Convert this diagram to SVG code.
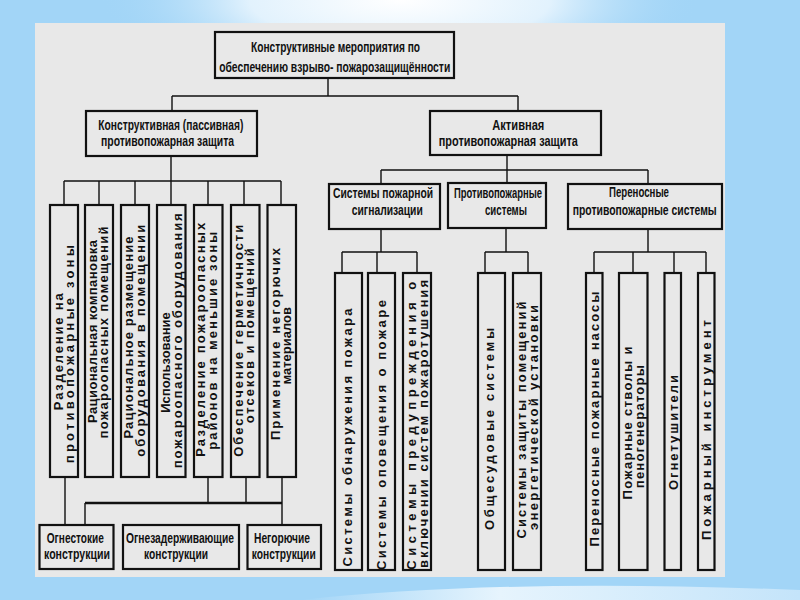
<svg xmlns="http://www.w3.org/2000/svg" width="800" height="600" viewBox="0 0 800 600">
<defs>
<radialGradient id="glow" cx="400" cy="0" r="300" gradientUnits="userSpaceOnUse" gradientTransform="translate(400 0) scale(1 0.3) translate(-400 0)">
<stop offset="0" stop-color="#ffffff"/>
<stop offset="0.5" stop-color="#e2f2fd"/>
<stop offset="1" stop-color="#a2d5f7" stop-opacity="0"/>
</radialGradient>
<linearGradient id="swoosh" x1="0" y1="0" x2="1" y2="0">
<stop offset="0" stop-color="#a2d5f7"/>
<stop offset="0.4" stop-color="#e6f4fd"/>
<stop offset="1" stop-color="#c4e4fa"/>
</linearGradient>
<style>
.box{fill:#e8e8e8;stroke:#111;stroke-width:2.2}
.ln{fill:none;stroke:#111;stroke-width:1.4}
.thk{fill:none;stroke:#111;stroke-width:2.6}
.h{font-family:"Liberation Sans",Arial,sans-serif;font-weight:bold;font-size:14px;fill:#111;text-anchor:middle}
.v{font-family:"Liberation Sans",Arial,sans-serif;font-weight:bold;font-size:13px;fill:#111;text-anchor:middle}
</style>
</defs>
<rect x="0" y="0" width="800" height="600" fill="#a2d5f7"/>
<rect x="0" y="0" width="800" height="120" fill="url(#glow)"/>
<path d="M300 600 Q 500 578 800 590 L800 600 Z" fill="url(#swoosh)"/>
<rect x="35" y="23" width="690" height="554" fill="#e8e8e8"/>

<g id="connectors">
<path class="ln" d="M328 78V96M172 96H518M172 96V111M518 96V111"/>
<path class="ln" d="M171 156V181M64 181H281M64 181V205M99 181V205M135 181V205M171 181V205M208 181V205M244 181V205M281 181V205"/>
<path class="ln" d="M507 155V183M381 170H648M381 170V184M648 170V184"/>
<path class="ln" d="M381 229V252M342 252H417M342 252V273M377 252V273M417 252V273"/>
<path class="ln" d="M506 228V252M485 252H528M485 252V273M528 252V273"/>
<path class="ln" d="M648 229V252M594 252H706M594 252V273M633 252V273M674 252V273M706 252V273"/>
<path class="ln" d="M65 477V525M208 477V503M246 477V503M282 477V525M85 503V525"/>
<path class="thk" d="M85 503H282"/>
</g>

<g id="root"><rect class="box" x="215" y="32" width="239" height="46"/>
<text class="h" transform="translate(335.5 51.5) scale(0.8 1)" textLength="211.3" lengthAdjust="spacingAndGlyphs">Конструктивные мероприятия по</text>
<text class="h" transform="translate(334.7 71.5) scale(0.8 1)" textLength="288.8" lengthAdjust="spacingAndGlyphs">обеспечению взрыво- пожарозащищённости</text></g>

<g id="passive"><rect class="box" x="86" y="111" width="171" height="45"/>
<text class="h" transform="translate(170.8 130) scale(0.8 1)" textLength="181.3" lengthAdjust="spacingAndGlyphs">Конструктивная (пассивная)</text>
<text class="h" transform="translate(167.5 146) scale(0.8 1)" textLength="166.3" lengthAdjust="spacingAndGlyphs">противопожарная защита</text></g>

<g id="active"><rect class="box" x="430" y="111" width="171" height="44"/>
<text class="h" transform="translate(518.3 130) scale(0.8 1)" textLength="65" lengthAdjust="spacingAndGlyphs">Активная</text>
<text class="h" transform="translate(508.3 146) scale(0.8 1)" textLength="173.8" lengthAdjust="spacingAndGlyphs">противопожарная защита</text></g>

<g id="alarm"><rect class="box" x="329" y="184" width="111" height="45"/>
<text class="h" transform="translate(383 198) scale(0.8 1)" textLength="125" lengthAdjust="spacingAndGlyphs">Системы пожарной</text>
<text class="h" transform="translate(387.3 215) scale(0.8 1)" textLength="88.8" lengthAdjust="spacingAndGlyphs">сигнализации</text></g>

<g id="firesys"><rect class="box" x="448" y="183" width="98" height="45"/>
<text class="h" transform="translate(498 198) scale(0.8 1)" textLength="110" lengthAdjust="spacingAndGlyphs">Противопожарные</text>
<text class="h" transform="translate(506 215) scale(0.8 1)" textLength="52.5" lengthAdjust="spacingAndGlyphs">системы</text></g>

<g id="portable"><rect class="box" x="568" y="184" width="154" height="45"/>
<text class="h" transform="translate(639 197) scale(0.8 1)" textLength="75" lengthAdjust="spacingAndGlyphs">Переносные</text>
<text class="h" transform="translate(644.7 215) scale(0.8 1)" textLength="180" lengthAdjust="spacingAndGlyphs">противопожарные системы</text></g>

<g id="p1"><rect class="box" x="50" y="205" width="28" height="272"/>
<text class="v" transform="translate(63.3 351.7) rotate(-90)" textLength="117" lengthAdjust="spacing">Разделение на</text>
<text class="v" transform="translate(74 354.2) rotate(-90)" textLength="218" lengthAdjust="spacing">противопожарные зоны</text></g>
<g id="p2"><rect class="box" x="85" y="205" width="28" height="272"/>
<text class="v" transform="translate(96.5 331.5) rotate(-90)" textLength="183" lengthAdjust="spacing">Рациональная компановка</text>
<text class="v" transform="translate(108 332.5) rotate(-90)" textLength="212" lengthAdjust="spacing">пожароопасных помещений</text></g>
<g id="p3"><rect class="box" x="121" y="205" width="28" height="272"/>
<text class="v" transform="translate(133 337.5) rotate(-90)" textLength="202" lengthAdjust="spacing">Рациональное размещение</text>
<text class="v" transform="translate(144.5 340.8) rotate(-90)" textLength="232" lengthAdjust="spacing">оборудования в помещении</text></g>
<g id="p4"><rect class="box" x="157" y="205" width="28.5" height="272"/>
<text class="v" transform="translate(170 362.5) rotate(-90)">Использование</text>
<text class="v" transform="translate(181.5 340.8) rotate(-90)" textLength="255" lengthAdjust="spacing">пожароопасного оборудования</text></g>
<g id="p5"><rect class="box" x="194" y="205" width="28.5" height="272"/>
<text class="v" transform="translate(205 339.8) rotate(-90)" textLength="234" lengthAdjust="spacing">Разделение пожароопасных</text>
<text class="v" transform="translate(216.5 340.8) rotate(-90)" textLength="218" lengthAdjust="spacing">районов на меньшие зоны</text></g>
<g id="p6"><rect class="box" x="231" y="205" width="28.5" height="272"/>
<text class="v" transform="translate(242.5 340.8) rotate(-90)" textLength="232" lengthAdjust="spacing">Обеспечение герметичности</text>
<text class="v" transform="translate(254 335.7) rotate(-90)" textLength="175" lengthAdjust="spacing">отсеков и помещений</text></g>
<g id="p7"><rect class="box" x="267.5" y="205" width="28.5" height="272"/>
<text class="v" transform="translate(279.5 344) rotate(-90)" textLength="192" lengthAdjust="spacing">Применение негорючих</text>
<text class="v" transform="translate(291 345.8) rotate(-90)">материалов</text></g>

<g id="a1"><rect class="box" x="335" y="273" width="27" height="297"/>
<text class="v" transform="translate(352 437.5) rotate(-90)" textLength="258" lengthAdjust="spacing">Системы обнаружения пожара</text></g>
<g id="a2"><rect class="box" x="368" y="273" width="27" height="297"/>
<text class="v" transform="translate(385.5 435) rotate(-90)" textLength="270" lengthAdjust="spacing">Системы оповещения о пожаре</text></g>
<g id="a3"><rect class="box" x="403" y="273" width="28" height="297"/>
<text class="v" transform="translate(416 425.8) rotate(-90)" textLength="288" lengthAdjust="spacing">Системы предупреждения о</text>
<text class="v" transform="translate(427.5 424) rotate(-90)" textLength="288" lengthAdjust="spacing">включении систем пожаротушения</text></g>
<g id="f1"><rect class="box" x="478" y="273" width="27" height="297"/>
<text class="v" transform="translate(494 429) rotate(-90)" textLength="202" lengthAdjust="spacing">Общесудовые системы</text></g>
<g id="f2"><rect class="box" x="513" y="273" width="28" height="297"/>
<text class="v" transform="translate(526 420) rotate(-90)" textLength="237" lengthAdjust="spacing">Системы защиты помещений</text>
<text class="v" transform="translate(537.5 417.5) rotate(-90)" textLength="225" lengthAdjust="spacing">энергетической установки</text></g>
<g id="e1"><rect class="box" x="586" y="273" width="16.5" height="297"/>
<text class="v" transform="translate(599 419) rotate(-90)" textLength="255" lengthAdjust="spacing">Переносные пожарные насосы</text></g>
<g id="e2"><rect class="box" x="619" y="273" width="28.5" height="297"/>
<text class="v" transform="translate(632 423) rotate(-90)" textLength="153" lengthAdjust="spacing">Пожарные стволы и</text>
<text class="v" transform="translate(643.5 426.7) rotate(-90)" textLength="123" lengthAdjust="spacing">пеногенераторы</text></g>
<g id="e3"><rect class="box" x="664.5" y="273" width="16.5" height="297"/>
<text class="v" transform="translate(677.5 432.5) rotate(-90)" textLength="115" lengthAdjust="spacing">Огнетушители</text></g>
<g id="e4"><rect class="box" x="698" y="273" width="16.5" height="297"/>
<text class="v" transform="translate(711 430) rotate(-90)" textLength="220" lengthAdjust="spacing">Пожарный инструмент</text></g>

<g id="b1"><rect class="box" x="39.5" y="525" width="74" height="44"/>
<text class="h" transform="translate(75.3 543) scale(0.8 1)" textLength="71.3" lengthAdjust="spacingAndGlyphs">Огнестокие</text>
<text class="h" transform="translate(77 559) scale(0.8 1)" textLength="82.5" lengthAdjust="spacingAndGlyphs">конструкции</text></g>
<g id="b2"><rect class="box" x="123" y="525" width="116" height="44"/>
<text class="h" transform="translate(180 543) scale(0.8 1)" textLength="135" lengthAdjust="spacingAndGlyphs">Огнезадерживающие</text>
<text class="h" transform="translate(176 559) scale(0.8 1)" textLength="80" lengthAdjust="spacingAndGlyphs">конструкции</text></g>
<g id="b3"><rect class="box" x="247.5" y="525" width="73.5" height="44"/>
<text class="h" transform="translate(282 543) scale(0.8 1)" textLength="70" lengthAdjust="spacingAndGlyphs">Негорючие</text>
<text class="h" transform="translate(283.7 559) scale(0.8 1)" textLength="80" lengthAdjust="spacingAndGlyphs">конструкции</text></g>
</svg>
